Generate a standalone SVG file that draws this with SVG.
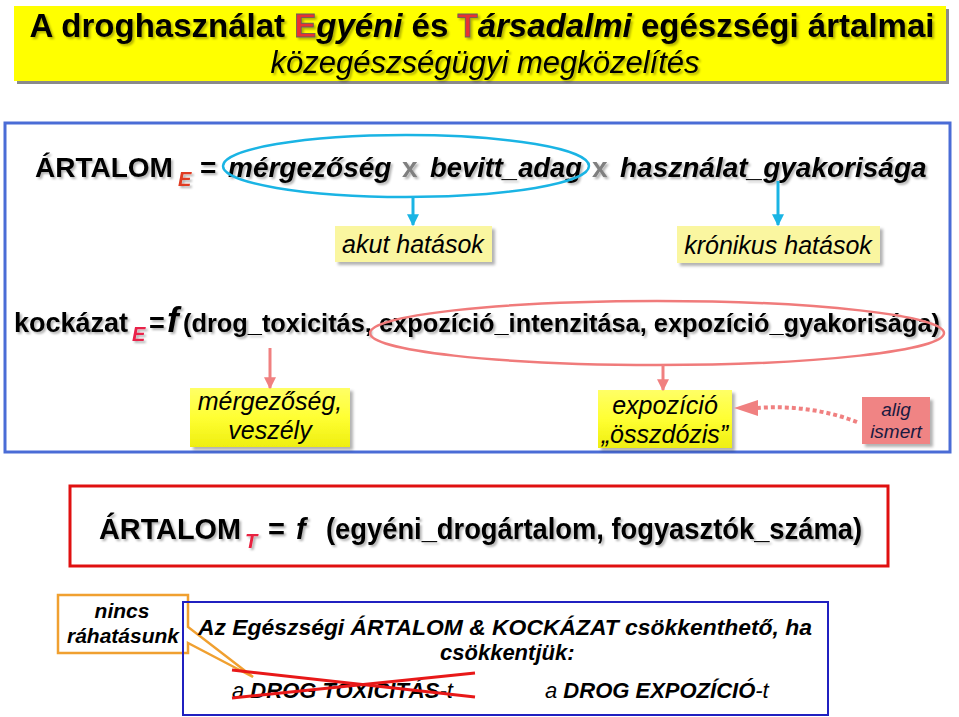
<svg xmlns="http://www.w3.org/2000/svg" width="959" height="717" viewBox="0 0 959 717">
<defs>
<style>
text{font-family:"Liberation Sans",Arial,sans-serif;fill:#000}
.b{font-weight:bold}
.i{font-style:italic}
.c{text-anchor:middle}
.gray{fill:#7f7f7f}
</style>
<filter id="ts" x="-5%" y="-30%" width="110%" height="170%">
<feDropShadow dx="2" dy="2" stdDeviation="1.2" flood-color="#000" flood-opacity="0.3"/>
</filter>
<filter id="bs" x="-10%" y="-10%" width="125%" height="130%">
<feDropShadow dx="3" dy="3" stdDeviation="1.5" flood-color="#000" flood-opacity="0.3"/>
</filter>
<linearGradient id="yg" x1="0" y1="0" x2="0" y2="1">
<stop offset="0" stop-color="#ffff66"/>
<stop offset="0.5" stop-color="#ffff33"/>
<stop offset="1" stop-color="#eeee10"/>
</linearGradient>
<marker id="ac" viewBox="0 0 10 10" refX="9" refY="5" markerWidth="4" markerHeight="4" orient="auto">
<path d="M0,0 L10,5 L0,10 Z" fill="#1ab4e4"/>
</marker>
<marker id="ap" viewBox="0 0 10 10" refX="9" refY="5" markerWidth="4" markerHeight="4" orient="auto">
<path d="M0,0 L10,5 L0,10 Z" fill="#f08080"/>
</marker>
</defs>
<rect width="959" height="717" fill="#fff"/>

<g id="title">
<rect x="17" y="9" width="932" height="75" fill="#8a8a8a"/>
<rect x="14" y="6" width="932" height="75" fill="#ffff00"/>
<g filter="url(#ts)">
<text x="482" y="37" class="b c" font-size="33"><tspan>A droghasználat </tspan><tspan fill="#e83030" stroke="#606060" stroke-width="0.8">E</tspan><tspan class="i">gyéni</tspan><tspan> és </tspan><tspan fill="#e83030" stroke="#606060" stroke-width="0.8">T</tspan><tspan class="i">ársadalmi</tspan><tspan> egészségi ártalmai</tspan></text>
<text x="485" y="73" class="i c" font-size="31">közegészségügyi megközelítés</text>
</g>
</g>

<g id="individual-frame">
<rect x="5" y="123" width="945" height="329" fill="none" stroke="#4a6cd6" stroke-width="3"/>
</g>

<g id="harm-e-formula" filter="url(#ts)">
<text x="35" y="177" class="b" font-size="28">ÁRTALOM</text>
<text x="178" y="186" class="b i" font-size="20" style="fill:#e03a20">E</text>
<text x="200" y="177" class="b" font-size="28">=</text>
<text x="228" y="177" class="b i" font-size="28">mérgezőség</text>
<text x="402" y="177" class="b gray" font-size="28">x</text>
<text x="430" y="177" class="b i" font-size="28" textLength="152" lengthAdjust="spacingAndGlyphs">bevitt_adag</text>
<text x="592" y="177" class="b gray" font-size="28">x</text>
<text x="620" y="177" class="b i" font-size="28">használat_gyakorisága</text>
</g>

<g id="acute">
<rect x="335" y="226" width="157" height="36" fill="#faf6a0" filter="url(#bs)"/>
<text x="413" y="253" class="i c" font-size="25">akut hatások</text>
</g>
<g id="chronic">
<rect x="677" y="226" width="203" height="37" fill="#faf6a0" filter="url(#bs)"/>
<text x="778" y="254" class="i c" font-size="25">krónikus hatások</text>
</g>

<g id="risk-formula" filter="url(#ts)">
<text x="14" y="332" class="b" font-size="27">kockázat</text>
<text x="132" y="341" class="b i" font-size="20" style="fill:#e8204a">E</text>
<text x="149" y="332" class="b" font-size="27">=</text>
<text x="167" y="332" class="b i" font-size="35">f</text>
<text x="183" y="332" class="b" font-size="26" textLength="757" lengthAdjust="spacingAndGlyphs">(drog_toxicitás, expozíció_intenzitása, expozíció_gyakorisága)</text>
</g>

<g id="toxicity">
<rect x="190" y="388" width="160" height="59" fill="url(#yg)" filter="url(#bs)"/>
<text x="270" y="410" class="i c" font-size="25">mérgezőség,</text>
<text x="270" y="439" class="i c" font-size="25">veszély</text>
</g>
<g id="exposure">
<rect x="598" y="390" width="134" height="58" fill="url(#yg)" filter="url(#bs)"/>
<text x="665" y="414" class="i c" font-size="25">expozíció</text>
<text x="665" y="443" class="i c" font-size="25">„összdózis”</text>
</g>
<g id="barely-known">
<rect x="862" y="397" width="68" height="47" fill="#f08484" filter="url(#bs)"/>
<text x="896" y="416" class="i c" font-size="19" style="fill:#1a1a40">alig</text>
<text x="896" y="438" class="i c" font-size="19" style="fill:#1a1a40">ismert</text>
</g>

<g id="connectors">
<ellipse cx="406" cy="166" rx="183" ry="31" fill="none" stroke="#1ab4e4" stroke-width="2.5"/>
<line x1="413" y1="197" x2="413" y2="225" stroke="#1ab4e4" stroke-width="3" marker-end="url(#ac)"/>
<line x1="778" y1="181" x2="778" y2="225" stroke="#1ab4e4" stroke-width="3" marker-end="url(#ac)"/>
<ellipse cx="657" cy="333" rx="287" ry="32" fill="none" stroke="#f07b7b" stroke-width="2.5"/>
<line x1="270" y1="348" x2="270" y2="388" stroke="#f08080" stroke-width="3" marker-end="url(#ap)"/>
<line x1="663" y1="365" x2="663" y2="390" stroke="#f08080" stroke-width="3" marker-end="url(#ap)"/>
<path d="M857,422 Q810,404 756,408" fill="none" stroke="#f08080" stroke-width="4" stroke-dasharray="4 3"/>
<path d="M734,408 L758,400 L758,416 Z" fill="#f08080"/>
</g>

<g id="harm-t">
<rect x="70" y="486" width="818" height="80" fill="none" stroke="#e01010" stroke-width="3"/>
<g filter="url(#ts)">
<text x="99" y="539" class="b" font-size="29" textLength="142" lengthAdjust="spacingAndGlyphs">ÁRTALOM</text>
<text x="245" y="548" class="b i" font-size="20" style="fill:#e82040">T</text>
<text x="268" y="539" class="b" font-size="29">=</text>
<text x="296" y="539" class="b i" font-size="29">f</text>
<text x="326" y="539" class="b" font-size="29" textLength="536" lengthAdjust="spacingAndGlyphs">(egyéni_drogártalom, fogyasztók_száma)</text>
</g>
</g>

<g id="no-influence">
<path d="M58,595 H188 V627 L253,677 L188,643 V653 H58 Z" fill="#fff" stroke="#f0a030" stroke-width="2.5" stroke-linejoin="miter"/>
<text x="122" y="618" class="b i c" font-size="21">nincs</text>
<text x="123" y="643" class="b i c" font-size="21">ráhatásunk</text>
</g>

<g id="reduction">
<rect x="183" y="602" width="645" height="113" fill="none" stroke="#2020c0" stroke-width="2"/>
<text x="198" y="635" class="b i" font-size="22" textLength="614" lengthAdjust="spacingAndGlyphs">Az Egészségi ÁRTALOM &amp; KOCKÁZAT csökkenthető, ha</text>
<text x="440" y="660" class="b i" font-size="22">csökkentjük:</text>
<text x="232" y="698" class="i" font-size="22">a <tspan class="b">DROG TOXICITÁS</tspan>-t</text>
<text x="545" y="698" class="i" font-size="22">a <tspan class="b">DROG EXPOZÍCIÓ</tspan>-t</text>
<line x1="232" y1="670" x2="475" y2="697" stroke="#e81818" stroke-width="3"/>
<line x1="232" y1="698" x2="475" y2="673" stroke="#e81818" stroke-width="3"/>
</g>
</svg>
